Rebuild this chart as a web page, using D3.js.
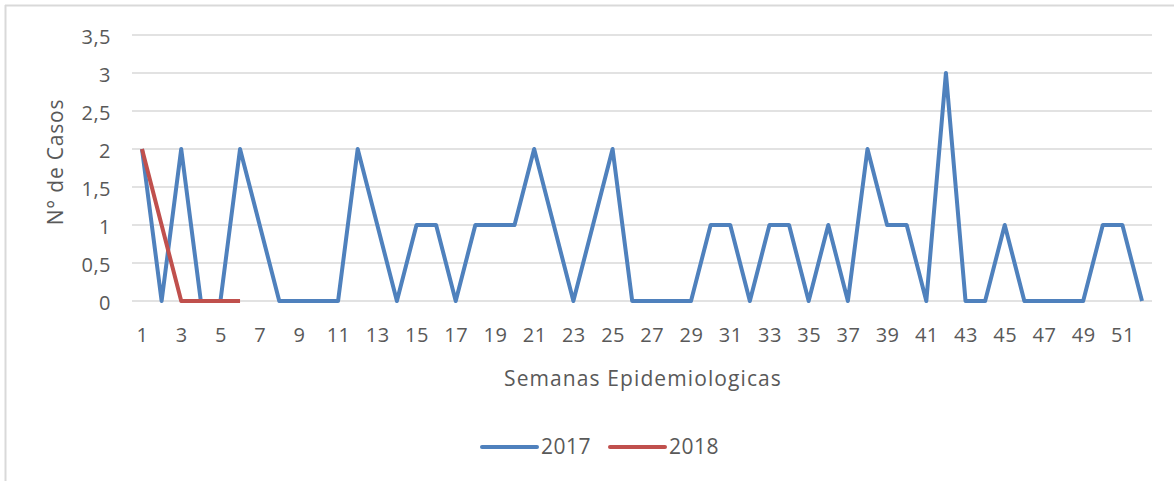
<!DOCTYPE html>
<html>
<head>
<meta charset="utf-8">
<script src="https://cdn.jsdelivr.net/npm/d3@7"></script>
<style>
  body { margin: 0; background: #fff; }
  svg text { font-family: "Open Sans", "Noto Sans", sans-serif; fill: #595959; }
</style>
</head>
<body>
<svg id="chart" width="1174" height="481"></svg>
<script>
// semanas epidemiologicas 1..52
var weeks = d3.range(1, 53);
var cases2017 = [2,0,2,0,0,2,1,0,0,0,0,2,1,0,1,1,0,1,1,1,2,1,0,1,2,0,0,0,0,1,
                 1,0,1,1,0,1,0,2,1,1,0,3,0,0,1,0,0,0,0,1,1,0];
var cases2018 = [2,1,0,0,0,0];
var yTicks = [0, 0.5, 1, 1.5, 2, 2.5, 3, 3.5];
var xTicks = weeks.filter(w => w % 2 === 1);
var seriesNames = ["2017", "2018"];
var colors = ["#4f81bd", "#c0504d"];

const svg = d3.select('svg#chart');

// frame of the chart box
svg.append('line').attr('x1', 5).attr('x2', 1174).attr('y1', 5.5).attr('y2', 5.5)
  .attr('stroke', '#d9d9d9').attr('stroke-width', 2);
svg.append('line').attr('x1', 5.5).attr('x2', 5.5).attr('y1', 5).attr('y2', 481)
  .attr('stroke', '#d9d9d9').attr('stroke-width', 2);

const x = d3.scalePoint().domain(weeks).range([142, 1142]);
const y = d3.scaleLinear().domain([0, 3.5]).range([301, 35]);

// gridlines
svg.append('g').selectAll('line')
  .data(yTicks)
  .enter().append('line')
  .attr('x1', 132).attr('x2', 1152)
  .attr('y1', d => y(d)).attr('y2', d => y(d))
  .attr('stroke', '#d9d9d9').attr('stroke-width', 1.5);

const fmt = d => String(d).replace('.', ',');

const yAxis = svg.append('g')
  .attr('transform', 'translate(111,2)')
  .call(d3.axisLeft(y).tickValues(yTicks).tickFormat(fmt).tickSize(0).tickPadding(0));
yAxis.select('.domain').remove();
yAxis.selectAll('text').style('font-size', '20px').style('letter-spacing', '0.5px').attr('dy', '0.34em');

const xAxis = svg.append('g')
  .attr('transform', 'translate(0,328)')
  .call(d3.axisBottom(x).tickValues(xTicks).tickSize(0).tickPadding(0));
xAxis.select('.domain').remove();
xAxis.selectAll('text').style('font-size', '20px').style('letter-spacing', '0.5px').attr('dy', '0.71em');

svg.append('text')
  .attr('x', 643).attr('y', 386)
  .attr('text-anchor', 'middle')
  .style('font-size', '21px')
  .style('letter-spacing', '1.1px')
  .text('Semanas Epidemiologicas');

svg.append('text')
  .attr('transform', 'translate(63,162) rotate(-90)')
  .attr('text-anchor', 'middle')
  .style('font-size', '21px')
  .style('letter-spacing', '0.8px')
  .text('N° de Casos');

const line = d3.line()
  .x((d, i) => x(weeks[i]))
  .y(d => y(d));

[cases2017, cases2018].forEach(function (vals, k) {
  svg.append('path')
    .datum(vals)
    .attr('fill', 'none')
    .attr('stroke', colors[k])
    .attr('stroke-width', 4)
    .attr('stroke-linejoin', 'round')
    .attr('d', line);
});

// legend
const legendX = [482, 610];
const legend = svg.append('g').selectAll('g')
  .data(seriesNames)
  .enter().append('g')
  .attr('transform', (d, i) => `translate(${legendX[i]},447)`);
legend.append('line')
  .attr('x1', 0).attr('x2', 55)
  .attr('stroke', (d, i) => colors[i])
  .attr('stroke-width', 4)
  .attr('stroke-linecap', 'round');
legend.append('text')
  .attr('x', 59).attr('dy', '0.35em')
  .style('font-size', '21px')
  .style('letter-spacing', '0.5px')
  .text(d => d);
</script>
</body>
</html>
